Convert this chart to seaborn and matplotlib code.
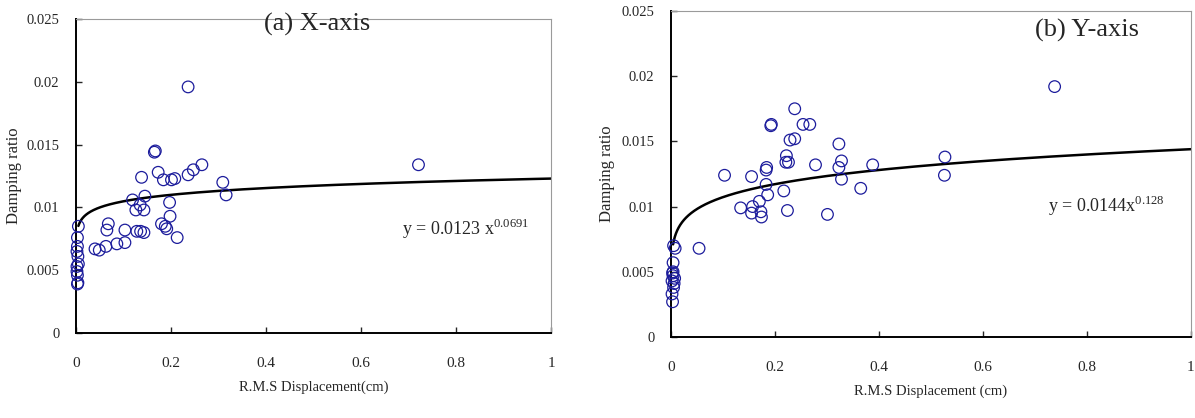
import numpy as np
import pandas as pd
import matplotlib
matplotlib.use('Agg')
import matplotlib.pyplot as plt
import seaborn as sns

#---------------------------------------------------------
# (a) X-axis
x_a=[0.005, 0.003, 0.003, 0.004, 0.005, 0.002, 0.002, 0.003, 0.003, 0.004, 0.002,
     0.040, 0.049, 0.063, 0.065, 0.068, 0.086, 0.103, 0.103, 0.119, 0.126, 0.128,
     0.135, 0.136, 0.143, 0.143, 0.145, 0.138, 0.165, 0.167, 0.173, 0.180, 0.184,
     0.191, 0.188, 0.197, 0.198, 0.201, 0.208, 0.213, 0.236, 0.236, 0.247, 0.265,
     0.309, 0.316, 0.721]
y_a=[0.0085, 0.0076, 0.0069, 0.0061, 0.0055, 0.0053, 0.0049, 0.0046, 0.0039, 0.0040, 0.0065,
     0.0067, 0.0066, 0.0069, 0.0082, 0.0087, 0.0071, 0.0072, 0.0082, 0.0106, 0.0098, 0.0081,
     0.0102, 0.0081, 0.0080, 0.0098, 0.0109, 0.0124, 0.0144, 0.0145, 0.0128, 0.0087, 0.0122,
     0.0083, 0.0085, 0.0104, 0.0093, 0.0122, 0.0123, 0.0076, 0.0196, 0.0126, 0.0130, 0.0134,
     0.0120, 0.0110, 0.0134]
# (b) Y-axis
x_b=[0.005, 0.008, 0.004, 0.003, 0.004, 0.007, 0.002, 0.005, 0.002, 0.003, 0.006, 0.004,
     0.054, 0.103, 0.134, 0.155, 0.155, 0.157, 0.170, 0.173, 0.174, 0.183, 0.183, 0.184,
     0.186, 0.192, 0.193, 0.217, 0.221, 0.222, 0.224, 0.226, 0.229, 0.238, 0.238, 0.254,
     0.267, 0.278, 0.301, 0.323, 0.323, 0.328, 0.328, 0.365, 0.388, 0.526, 0.527, 0.738]
y_b=[0.0070, 0.0068, 0.0057, 0.0049, 0.0047, 0.0045, 0.0043, 0.0038, 0.0033, 0.0027, 0.0041, 0.0050,
     0.0068, 0.0124, 0.0099, 0.0123, 0.0095, 0.0100, 0.0104, 0.0096, 0.0092, 0.0117, 0.0128, 0.0130,
     0.0109, 0.0162, 0.0163, 0.0112, 0.0134, 0.0139, 0.0097, 0.0134, 0.0151, 0.0152, 0.0175, 0.0163,
     0.0163, 0.0132, 0.0094, 0.0148, 0.0130, 0.0135, 0.0121, 0.0114, 0.0132, 0.0124, 0.0138, 0.0192]

# power-law fits y = a * x^b shown on the chart
fit_a=(0.0123, 0.0691, 0.005)
fit_b=(0.0144, 0.128, 0.004)

xticks=[0, 0.2, 0.4, 0.6, 0.8, 1]
xtick_lbl=['0', '0.2', '0.4', '0.6', '0.8', '1']
yticks=[0, 0.005, 0.01, 0.015, 0.02, 0.025]
ytick_lbl=['0', '0.005', '0.01', '0.015', '0.02', '0.025']

mk_col='#1c1c9c'

#--------------------------------------------------------
sns.set_style('ticks')
plt.rcParams['font.family']=['Liberation Serif', 'DejaVu Serif']
plt.rcParams['mathtext.fontset']='custom'
plt.rcParams['mathtext.rm']='Liberation Serif'

fig=plt.figure(figsize=(11.95, 4.18), dpi=100)
ax1=fig.add_axes([0.0636, 0.2033, 0.3975, 0.751])
ax2=fig.add_axes([0.5615, 0.1938, 0.435, 0.780])

def plt_panel(ax, x, y, fit, title, tpos, eq, epos, xlbl, ylx):
	df=pd.DataFrame({'x':x, 'y':y})
	sns.scatterplot(data=df, x='x', y='y', ax=ax, marker='o', s=70,
		color=mk_col, facecolor='none', edgecolor=mk_col, linewidth=0.9, zorder=3, clip_on=False)
	a, b, x0=fit
	xf=np.geomspace(x0, 1, 300)
	dff=pd.DataFrame({'x':xf, 'y':a*xf**b})
	sns.lineplot(data=dff, x='x', y='y', ax=ax, color='black', lw=1.8, estimator=None, zorder=2)
	ax.set_xlim(0, 1)
	ax.set_ylim(0, 0.025)
	ax.set_xticks(xticks)
	ax.set_xticklabels(xtick_lbl, fontsize=11)
	ax.set_yticks(yticks)
	ax.set_yticklabels(ytick_lbl, fontsize=10.5)
	ax.tick_params(direction='in', length=4, width=1)
	ax.tick_params(axis='x', pad=17)
	ax.tick_params(axis='y', pad=12)
	for s in ['left', 'bottom']:
		ax.spines[s].set_color('black')
		ax.spines[s].set_linewidth(1.4)
	for s in ['top', 'right']:
		ax.spines[s].set_color('#9a9a9a')
		ax.spines[s].set_linewidth(0.8)
	ax.set_xlabel(xlbl, fontsize=10.5, labelpad=8)
	ax.set_ylabel('Damping ratio', fontsize=12)
	ax.yaxis.set_label_coords(ylx, 0.5)
	ax.text(tpos[0], tpos[1], title, fontsize=19, ha='center', va='top')
	ax.text(epos[0], epos[1], eq, fontsize=13, ha='left', va='baseline')
	return

plt_panel(ax1, x_a, y_a, fit_a, '(a) X-axis', (0.507, 0.0255),
	r'y = 0.0123 x$^{0.0691}$', (0.686, 0.0078), 'R.M.S Displacement(cm)', -0.114)
plt_panel(ax2, x_b, y_b, fit_b, '(b) Y-axis', (0.80, 0.0244),
	r'y = 0.0144x$^{0.128}$', (0.725, 0.0096), 'R.M.S Displacement (cm)', -0.108)

plt.savefig('out.png', dpi=100)
plt.close()
